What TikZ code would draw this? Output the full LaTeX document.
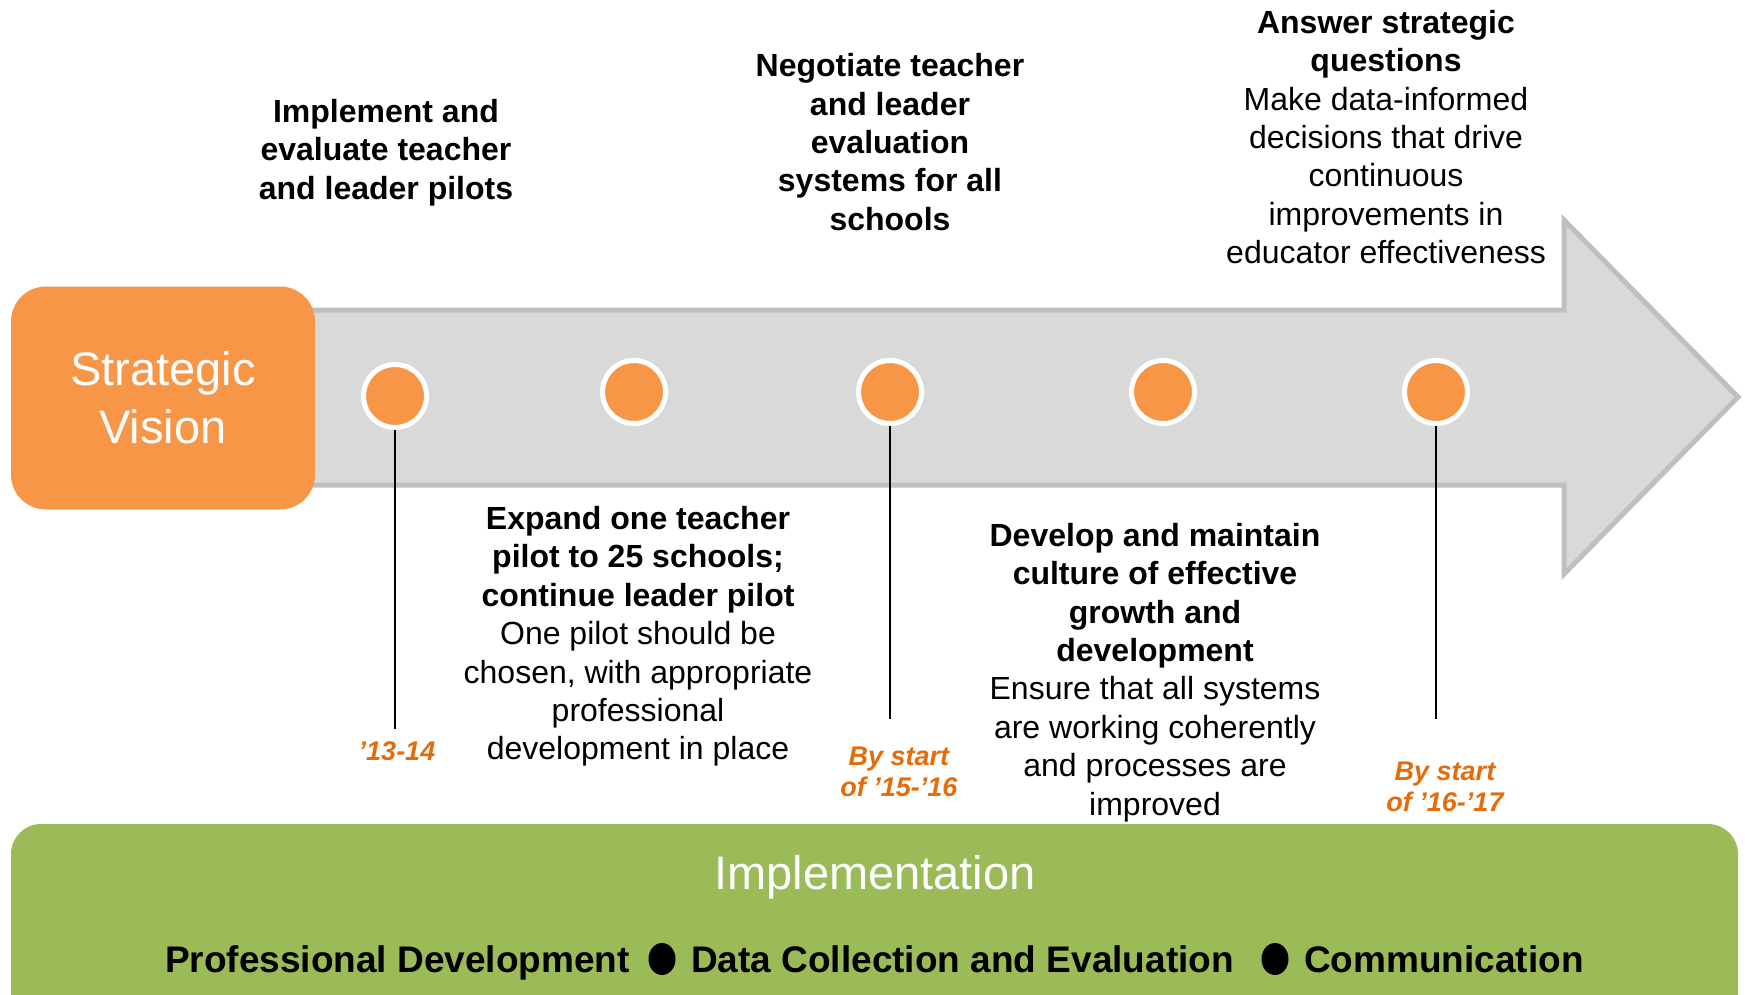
\documentclass[tikz,border=0pt]{standalone}
\usepackage{fontspec}
\setmainfont{Liberation Sans}
\usetikzlibrary{shapes.geometric}
\definecolor{vorange}{HTML}{F79646}
\definecolor{lorange}{HTML}{E46C0A}
\definecolor{agray}{HTML}{D9D9D9}
\definecolor{aedge}{HTML}{BFBFBF}
\definecolor{igreen}{HTML}{9BBB59}
\tikzset{
  txt/.style={align=center, inner sep=0pt, font=\fontsize{32}{38.4}\selectfont},
  yr/.style={align=center, inner sep=0pt, text=lorange, font=\fontsize{27}{31}\selectfont\bfseries\itshape},
  dot/.style={circle, fill=vorange, draw=white, line width=5pt, minimum size=63pt, inner sep=0pt},
  stem/.style={line width=2pt, black},
  bot/.style={inner sep=0pt, font=\fontsize{37}{44}\selectfont\bfseries},
  bul/.style={ellipse, fill=black, minimum width=27pt, minimum height=32pt, inner sep=0pt}
}
\begin{document}
\begin{tikzpicture}[x=1pt,y=-1pt]
\useasboundingbox (0,0) rectangle (1745,995);
\clip (0,0) rectangle (1745,995);
% gray arrow
\draw[fill=agray, draw=aedge, line width=5pt, line join=miter]
  (290,310) -- (1564,310) -- (1564,220) -- (1738,397) -- (1564,574) -- (1564,485) -- (290,485) -- cycle;
% strategic vision box
\node[fill=vorange, rounded corners=35pt, minimum width=304pt, minimum height=223pt, inner sep=0pt,
  text=white, align=center, font=\fontsize{47}{58}\selectfont] (sv) at (163,398) {Strategic\\Vision};
% circles
\node[dot] (c1) at (395,396) {};
\node[dot] (c2) at (634,392) {};
\node[dot] (c3) at (890,392) {};
\node[dot] (c4) at (1163,392) {};
\node[dot] (c5) at (1436,392) {};
% stem ends
\coordinate (e1) at (395,729);
\coordinate (e3) at (890,719);
\coordinate (e5) at (1436,719);
\draw[stem] (c1.south) -- (e1);
\draw[stem] (c3.south) -- (e3);
\draw[stem] (c5.south) -- (e5);
% top texts
\node[txt] (t1) at (386,152.5) {\bfseries Implement and\\\bfseries evaluate teacher\\\bfseries and leader pilots};
\node[txt] (t2) at (890,142) {\bfseries Negotiate teacher\\\bfseries and leader\\\bfseries evaluation\\\bfseries systems for all\\\bfseries schools};
\node[txt] (t3) at (1386,137) {\bfseries Answer strategic\\\bfseries questions\\Make data-informed\\decisions that drive\\continuous\\improvements in\\educator effectiveness};
% bottom texts
\node[txt] (b1) at (638,636.5) {\bfseries Expand one teacher\\\bfseries pilot to 25 schools;\\\bfseries continue leader pilot\\One pilot should be\\chosen, with appropriate\\professional\\development in place};
\node[txt] (b2) at (1155,672.5) {\bfseries Develop and maintain\\\bfseries culture of effective\\\bfseries growth and\\\bfseries development\\Ensure that all systems\\are working coherently\\and processes are\\improved};
% years
\node[yr] (y1) at (397,751) {’13-14};
\node[yr] (y2) at (899,771.5) {By start\\of ’15-’16};
\node[yr] (y3) at (1445,786.5) {By start\\of ’16-’17};
% implementation bar
\fill[igreen, rounded corners=30pt] (11,824) rectangle (1738,1050);
\node[text=white, inner sep=0pt, font=\fontsize{47}{56}\selectfont] (impl) at (875,877) {Implementation};
\node[bot, anchor=base west] (pd) at (165,972) {Professional Development};
\node[bul] (bu1) at (662,959) {};
\node[bot, anchor=base west] (dce) at (691,972) {Data Collection and Evaluation};
\node[bul] (bu2) at (1275,959) {};
\node[bot, anchor=base west] (com) at (1304,972) {Communication};
\end{tikzpicture}
\end{document}
